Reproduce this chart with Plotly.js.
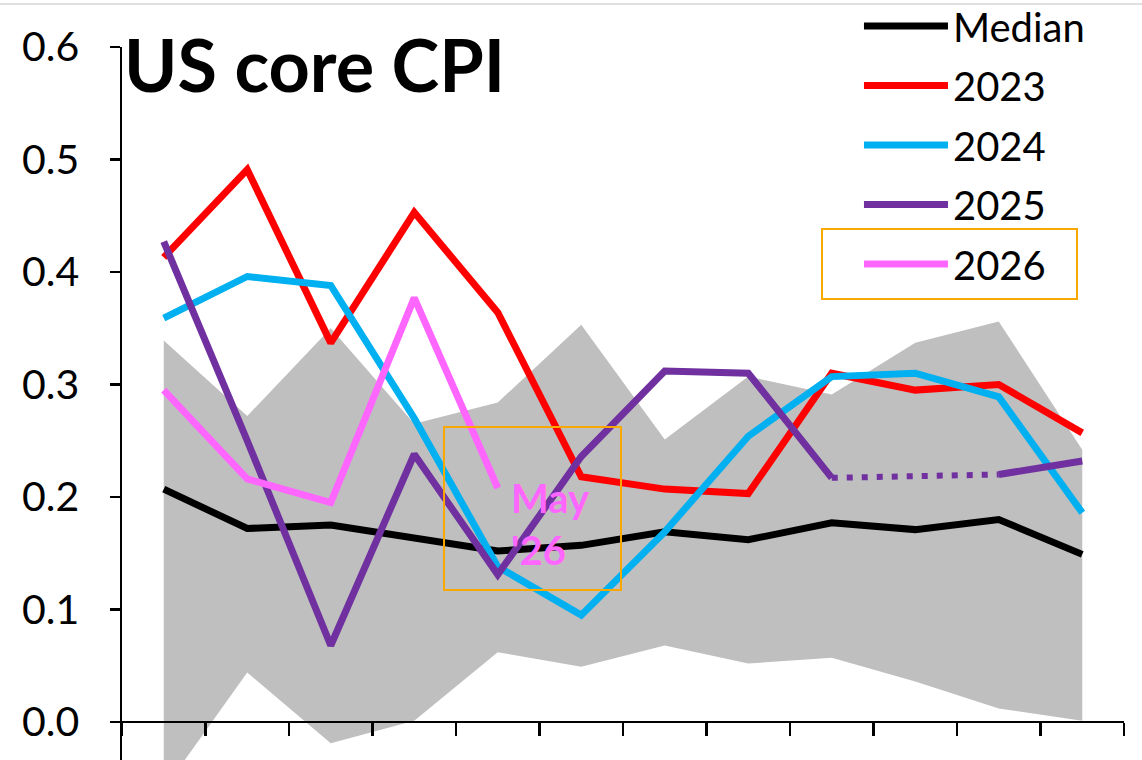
<!DOCTYPE html>
<html>
<head>
<meta charset="utf-8">
<script src="https://cdn.plot.ly/plotly-3.0.1.min.js"></script>
<style>
  html, body { margin: 0; padding: 0; background: #fff; }
  #chart { width: 1142px; height: 760px; }
</style>
</head>
<body>
<div id="chart"></div>
<script>
// monthly change in US core CPI, % m/m
var months = [1, 2, 3, 4, 5, 6, 7, 8, 9, 10, 11, 12];
var monthNames = ['Jan', 'Feb', 'Mar', 'Apr', 'May', 'Jun', 'Jul', 'Aug', 'Sep', 'Oct', 'Nov', 'Dec'];

var median = [0.207, 0.172, 0.175, 0.164, 0.152, 0.157, 0.169, 0.162, 0.177, 0.171, 0.180, 0.149];
var y2023 = [0.413, 0.491, 0.337, 0.453, 0.364, 0.218, 0.207, 0.203, 0.310, 0.295, 0.300, 0.257];
var y2024 = [0.359, 0.396, 0.388, 0.270, 0.138, 0.095, 0.169, 0.254, 0.307, 0.310, 0.289, 0.186];
// no October 2025 print
var y2025 = [0.427, 0.250, 0.068, 0.238, 0.131, 0.236, 0.312, 0.310, 0.217, null, 0.220, 0.232];
var y2026 = [0.295, 0.216, 0.195, 0.377, 0.208];

// historical range (grey band)
var bandHigh = [0.339, 0.272, 0.350, 0.265, 0.284, 0.353, 0.251, 0.307, 0.291, 0.337, 0.356, 0.242];
var bandLow = [-0.060, 0.044, -0.019, 0.001, 0.062, 0.049, 0.068, 0.052, 0.057, 0.036, 0.012, 0.001];

var yTicks = [0, 0.1, 0.2, 0.3, 0.4, 0.5, 0.6];

var FONT = 'Lato, "Open Sans", sans-serif';
var LW = 7;

function lineTrace(name, y, color, group) {
    return {
        x: months.slice(0, y.length),
        y: y,
        text: monthNames.slice(0, y.length),
        type: 'scatter',
        mode: 'lines',
        name: name,
        legendgroup: group,
        connectgaps: false,
        line: { color: color, width: LW },
        hovertemplate: '%{text}: %{y:.2f}<extra>' + name + '</extra>'
    };
}

// dotted bridge over the missing October 2025 value
var gapX = [months[8], months[10]];
var gapY = [y2025[8], y2025[10]];

var plotlyData = [
    {
        x: months, y: bandLow, type: 'scatter', mode: 'lines',
        line: { width: 0, color: '#bfbfbf' }, showlegend: false, hoverinfo: 'skip'
    },
    {
        x: months, y: bandHigh, type: 'scatter', mode: 'lines', fill: 'tonexty',
        fillcolor: '#bfbfbf', line: { width: 0, color: '#bfbfbf' },
        showlegend: false, hoverinfo: 'skip'
    },
    lineTrace('Median', median, '#000000', 'g1'),
    lineTrace('2023', y2023, '#ff0000', 'g2'),
    lineTrace('2024', y2024, '#00b0f0', 'g3'),
    lineTrace('2025', y2025, '#7030a0', 'g4'),
    {
        x: gapX, y: gapY, type: 'scatter', mode: 'lines', legendgroup: 'g4',
        line: { color: '#7030a0', width: 6, dash: '6px,9px' },
        showlegend: false, hoverinfo: 'skip'
    },
    lineTrace('2026', y2026, '#ff66ff', 'g5')
];

var orange = '#f9a800';

var plotlyLayout = {
    width: 1142,
    height: 760,
    margin: { l: 122, r: 18, t: 47, b: 0, autoexpand: false },
    paper_bgcolor: '#ffffff',
    plot_bgcolor: '#ffffff',
    font: { family: FONT, color: '#000000', size: 40 },
    showlegend: true,
    legend: {
        x: 0.7355, y: 1.075, xanchor: 'left', yanchor: 'top',
        traceorder: 'grouped', tracegroupgap: 4.5,
        itemwidth: 84,
        font: { family: FONT, size: 40, color: '#000000' },
        bgcolor: 'rgba(0,0,0,0)'
    },
    xaxis: {
        range: [0.5, 12.5],
        anchor: 'free',
        position: 0.0533,
        tickmode: 'array',
        tickvals: [0.5, 1.5, 2.5, 3.5, 4.5, 5.5, 6.5, 7.5, 8.5, 9.5, 10.5, 11.5, 12.5],
        showticklabels: false,
        ticks: 'outside', ticklen: 13, tickwidth: 2.5, tickcolor: '#000000',
        showline: true, linecolor: '#000000', linewidth: 2.5,
        showgrid: false, zeroline: false, fixedrange: true
    },
    yaxis: {
        range: [-0.0338, 0.6],
        tickmode: 'array',
        tickvals: yTicks,
        ticktext: yTicks.map(function(v) { return v.toFixed(1); }),
        ticks: 'outside', ticklen: 10, tickwidth: 2.5, tickcolor: '#000000',
        ticklabelstandoff: 22,
        tickfont: { family: FONT, size: 41, color: '#000000' },
        showline: true, linecolor: '#000000', linewidth: 2.5,
        showgrid: false, zeroline: false, fixedrange: true
    },
    annotations: [
        {
            text: '<b>US core CPI</b>', xref: 'paper', yref: 'paper',
            x: 0.0, y: 0.9755, xanchor: 'left', yanchor: 'middle', showarrow: false,
            font: { family: FONT, size: 72, color: '#000000' }
        },
        {
            text: "<b>May<br>'26</b>", xref: 'paper', yref: 'paper',
            x: 0.386, y: 0.331, xanchor: 'left', yanchor: 'middle', align: 'left', showarrow: false,
            font: { family: FONT, size: 40, color: '#ff66ff', weight: 900 }
        }
    ],
    shapes: [
        {
            type: 'rect', xref: 'paper', yref: 'paper',
            x0: 0.3214, x1: 0.498, y0: 0.2384, y1: 0.467,
            line: { color: orange, width: 2 }
        },
        {
            type: 'rect', xref: 'paper', yref: 'paper',
            x0: 0.6986, x1: 0.9531, y0: 0.6466, y1: 0.7447,
            line: { color: orange, width: 2 }
        },
        {
            type: 'line', xref: 'paper', yref: 'paper',
            x0: -0.2, x1: 1.1, y0: 1.0603, y1: 1.0603,
            line: { color: '#d6d6d6', width: 1.5 }
        }
    ]
};

var plotlyConfig = {
    displayModeBar: false,
    responsive: false,
    staticPlot: true
};

Plotly.newPlot('chart', plotlyData, plotlyLayout, plotlyConfig);
</script>
</body>
</html>
